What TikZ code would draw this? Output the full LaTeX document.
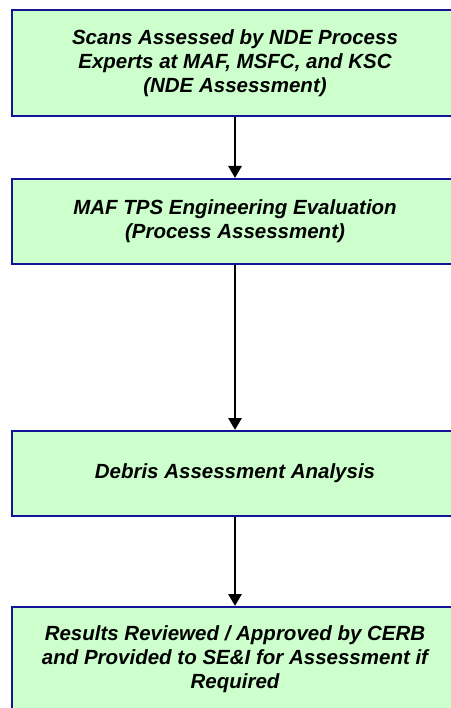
\documentclass[tikz,border=0pt]{standalone}
\usepackage{fontspec}
\setmainfont{Liberation Sans}
\usetikzlibrary{arrows.meta}
\definecolor{boxgreen}{RGB}{204,255,204}
\definecolor{boxnavy}{RGB}{20,20,150}

\begin{document}
\begin{tikzpicture} [x = 1pt, y = -1pt,
		stage/.style = {draw = boxnavy, line width = 2pt, fill = boxgreen, minimum width = 446pt, inner sep = 0pt, align = center, font = \bfseries\itshape\fontsize{20.5}{24}\selectfont},
		flow/.style = {line width = 2.8pt, -{Triangle[length = 12pt, width = 13pt]}}]
		\useasboundingbox (0,0) rectangle (450,708);
		\node [stage, minimum height = 106pt] (nde) at (235,63) {Scans Assessed by NDE Process\\ Experts at MAF, MSFC, and KSC\\ (NDE Assessment)};
		\node [stage, minimum height = 85pt] (tps) at (235,221.5) {MAF TPS Engineering Evaluation\\ (Process Assessment)};
		\node [stage, minimum height = 85pt] (debris) at (235,473.5) {Debris Assessment Analysis};
		\node [stage, minimum height = 104pt] (cerb) at (235,659) {Results Reviewed / Approved by CERB\\ and Provided to SE\&I for Assessment if\\ Required};
		\draw [flow] (nde) -- (tps);
		\draw [flow] (tps) -- (debris);
		\draw [flow] (debris) -- (cerb);
	\end{tikzpicture}
\end{document}
